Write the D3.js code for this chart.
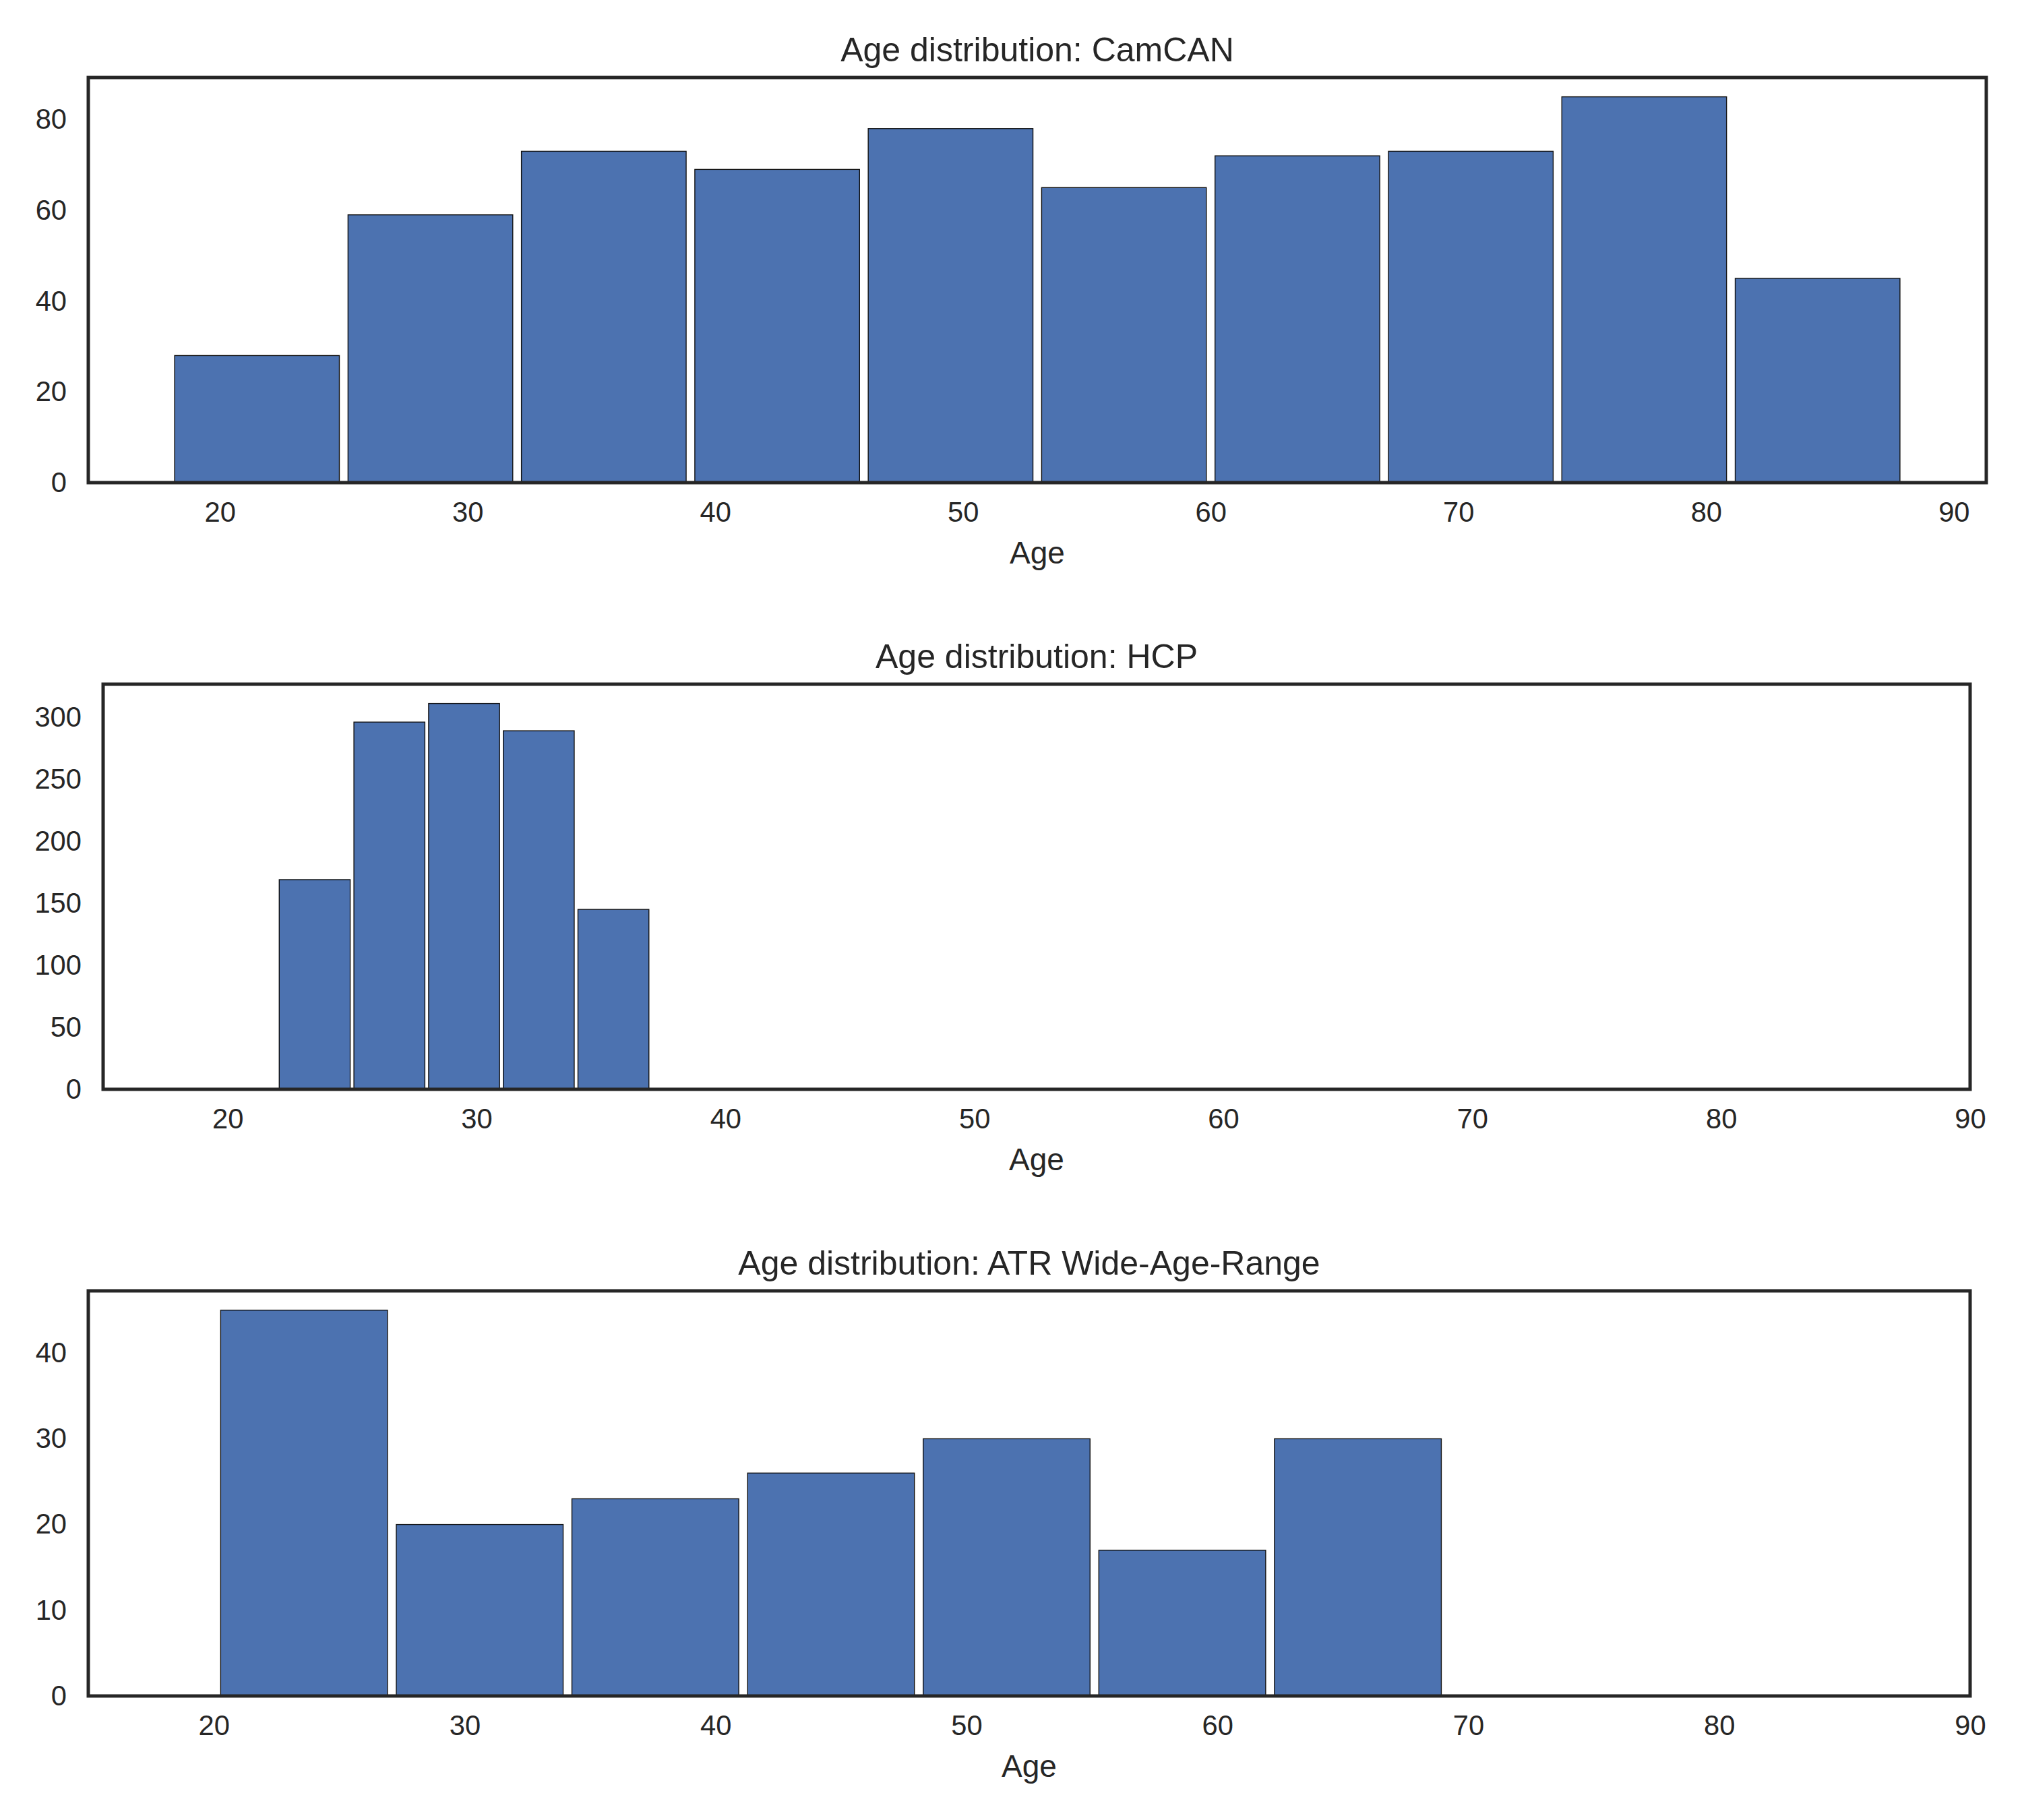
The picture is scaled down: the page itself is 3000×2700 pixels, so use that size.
<!DOCTYPE html>
<html>
<head>
<meta charset="utf-8">
<script src="https://cdn.jsdelivr.net/npm/d3@7"></script>
<style>
  body { margin: 0; background: #fff; }
  text { font-family: "Liberation Sans", Arial, sans-serif; fill: #262626; }
</style>
</head>
<body>
<script>
// age histograms, values
var titles = ['Age distribution: CamCAN', 'Age distribution: HCP', 'Age distribution: ATR Wide-Age-Range'];

var camcanEdges  = [18, 25, 32, 39, 46, 53, 60, 67, 74, 81, 88];
var camcanCounts = [28, 59, 73, 69, 78, 65, 72, 73, 85, 45];

var hcpEdges  = [22, 25, 28, 31, 34, 37];
var hcpCounts = [169, 296, 311, 289, 145];

var atrEdges  = [20.1, 27.1, 34.1, 41.1, 48.1, 55.1, 62.1, 69.1];
var atrCounts = [45, 20, 23, 26, 30, 17, 30];

var xTicks = [20, 30, 40, 50, 60, 70, 80, 90];
var camcanYTicks = [0, 20, 40, 60, 80];
var hcpYTicks = [0, 50, 100, 150, 200, 250, 300];
var atrYTicks = [0, 10, 20, 30, 40];

var xLabel = 'Age';

// x limits: CamCAN is autoscaled, the other two are fixed at 15-90
var camcanXLim = [14.69, 91.31];
var fixedXLim = [15, 90];

var width = 3000,
    height = 2700,
    rwidth = 0.95;

var panels = [
  { title: titles[0], edges: camcanEdges, counts: camcanCounts, yTicks: camcanYTicks, xlim: camcanXLim,
    box: { left: 131, right: 2947, top: 115, bottom: 716 } },
  { title: titles[1], edges: hcpEdges, counts: hcpCounts, yTicks: hcpYTicks, xlim: fixedXLim,
    box: { left: 153, right: 2923, top: 1015, bottom: 1616 } },
  { title: titles[2], edges: atrEdges, counts: atrCounts, yTicks: atrYTicks, xlim: fixedXLim,
    box: { left: 131, right: 2923, top: 1915, bottom: 2516 } }
];

var svg = d3.select('body').append('svg')
  .attr('width', width)
  .attr('height', height);

panels.forEach(function(p) {
  var b = p.box;
  var x = d3.scaleLinear().domain(p.xlim).range([b.left, b.right]);
  var y = d3.scaleLinear().domain([0, d3.max(p.counts) * 1.05]).range([b.bottom, b.top]);

  var bins = p.counts.map(function(c, i) {
    return { x0: p.edges[i], x1: p.edges[i + 1], count: c };
  });

  var g = svg.append('g');

  g.selectAll('rect.bar')
    .data(bins)
    .enter()
    .append('rect')
    .attr('class', 'bar')
    .attr('x', function(d) { return x(d.x0 + (d.x1 - d.x0) * (1 - rwidth) / 2); })
    .attr('width', function(d) { return x(d.x1 - (d.x1 - d.x0) * (1 - rwidth) / 2) - x(d.x0 + (d.x1 - d.x0) * (1 - rwidth) / 2); })
    .attr('y', function(d) { return y(d.count); })
    .attr('height', function(d) { return y(0) - y(d.count); })
    .attr('fill', '#4C72B0')
    .attr('stroke', '#111')
    .attr('stroke-width', 1.4);

  // axes without tick marks, labels only (seaborn white style)
  var xAxis = d3.axisBottom(x).tickValues(xTicks).tickSize(0).tickPadding(28).tickFormat(d3.format('d'));
  var yAxis = d3.axisLeft(y).tickValues(p.yTicks).tickSize(0).tickPadding(32).tickFormat(d3.format('d'));

  var gx = g.append('g')
    .attr('transform', 'translate(0,' + b.bottom + ')')
    .call(xAxis);
  var gy = g.append('g')
    .attr('transform', 'translate(' + b.left + ',0)')
    .call(yAxis);

  [gx, gy].forEach(function(a) {
    a.select('.domain').remove();
    a.selectAll('text')
      .attr('font-size', '41.7px')
      .attr('font-family', '"Liberation Sans", Arial, sans-serif')
      .attr('fill', '#262626');
  });

  // frame
  g.append('rect')
    .attr('x', b.left)
    .attr('y', b.top)
    .attr('width', b.right - b.left)
    .attr('height', b.bottom - b.top)
    .attr('fill', 'none')
    .attr('stroke', '#262626')
    .attr('stroke-width', 5);

  g.append('text')
    .attr('x', (b.left + b.right) / 2)
    .attr('y', b.top - 24)
    .attr('text-anchor', 'middle')
    .attr('font-size', '50px')
    .text(p.title);

  g.append('text')
    .attr('x', (b.left + b.right) / 2)
    .attr('y', b.bottom + 120)
    .attr('text-anchor', 'middle')
    .attr('font-size', '46px')
    .text(xLabel);
});
</script>
</body>
</html>
